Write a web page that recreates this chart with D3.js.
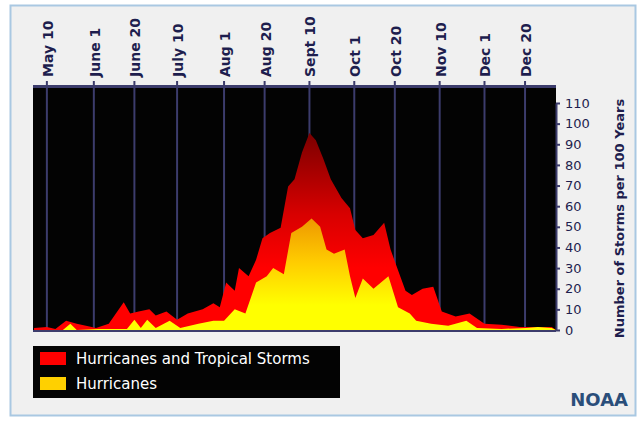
<!DOCTYPE html>
<html><head><meta charset="utf-8">
<script src="https://cdn.jsdelivr.net/npm/d3@7"></script>
<style>body{margin:0;background:#fff;font-family:"DejaVu Sans",sans-serif}</style>
</head><body><div id="viz"></div>
<script>
// day of year -> storms per 100 years
let totalDays = [124,130,134,139,144,151,153,159,166,169,173,178,181,186,191,196,203,208,211,214,218,220,224.5,228,231,234.5,239.5,243,246,249.5,253,256,259.5,263,268,272,274.5,278,283,288,291,294.5,298,301,306,311,315,321.5,328,335,343,351.5,360,366.5,368.5];
let totalVals = [1,1.5,0.5,4.5,3,1.5,1,3,13.5,8,9,10,7,9,5,8,10,13,11,23,19,30,26,34,44.5,47,49.5,69.5,73,86,95.5,92,83,73,64,59,48.5,44.5,46,52,39,29,19,17,20,21,9,6.5,8,3,2.5,1.5,1.5,1.5,0];
let hurDays = [124,137.5,141,144,154,167.5,171,174,177,181,187.5,192.5,201,208,213,218,223,228,233,236,241,244.5,249.5,254,258,261,264.5,269.5,272,274.5,278,283,290,294.5,300,303,310,318,326.5,331.5,343,354.5,360,366.5,368.5];
let hurVals = [0,0,3,0,0.5,0.5,5,1,5,1,4.5,1,3,4.5,4.5,10,8,23,26,30,27,47,50,54,50,39,37,39,26,15.5,25,20,26,11,8,4.5,3,2,4.5,1,0.5,1,1.5,1,0];
let tickDays = [130,152,171,191,213,232,253,274,293,314,335,354];
let tickLabels = ['May 10','June 1','June 20','July 10','Aug 1','Aug 20','Sept 10','Oct 1','Oct 20','Nov 10','Dec 1','Dec 20'];
let yTicks = [0,10,20,30,40,50,60,70,80,90,100,110];
let legendLabels = ['Hurricanes and Tropical Storms','Hurricanes'];

let W = 643, H = 421;
let svg = d3.select('#viz').append('svg').attr('width', W).attr('height', H);
let defs = svg.append('defs');

svg.append('rect').attr('x', 10.5).attr('y', 5.5).attr('width', 625).attr('height', 410)
	.attr('fill', '#f0f0f0').attr('stroke', '#a9c8e2').attr('stroke-width', 2);

let pL = 33, pR = 556, pT = 85, pB = 331;
let x = d3.scaleLinear().domain([123.5, 368.5]).range([pL, pR]);
let y = d3.scaleLinear().domain([0, 110]).range([pB - 1, 103]);

svg.append('rect').attr('x', pL).attr('y', pT).attr('width', pR - pL).attr('height', pB - pT).attr('fill', '#030303');

let gr = defs.append('linearGradient').attr('id', 'gr').attr('gradientUnits', 'userSpaceOnUse')
	.attr('x1', 0).attr('x2', 0).attr('y1', y(95)).attr('y2', y(30));
gr.append('stop').attr('offset', 0).attr('stop-color', '#7c0000');
gr.append('stop').attr('offset', 0.6).attr('stop-color', '#d80000');
gr.append('stop').attr('offset', 1).attr('stop-color', '#ff0000');
let gy = defs.append('linearGradient').attr('id', 'gy').attr('gradientUnits', 'userSpaceOnUse')
	.attr('x1', 0).attr('x2', 0).attr('y1', y(54)).attr('y2', y(12));
gy.append('stop').attr('offset', 0).attr('stop-color', '#ee9800');
gy.append('stop').attr('offset', 0.5).attr('stop-color', '#ffcc00');
gy.append('stop').attr('offset', 1).attr('stop-color', '#ffff00');

// grid lines
svg.append('g').selectAll('line').data(tickDays).join('line')
	.attr('x1', d => x(d)).attr('x2', d => x(d)).attr('y1', pT - 4).attr('y2', pB)
	.attr('stroke', '#3c3c6c').attr('stroke-width', 2);

let area = (days) => d3.area().x((d, i) => x(days[i])).y0(y(0)).y1(d => y(d));
svg.append('path').datum(totalVals).attr('fill', 'url(#gr)').attr('d', area(totalDays));
svg.append('path').datum(hurVals).attr('fill', 'url(#gy)').attr('d', area(hurDays));

svg.append('line').attr('x1', pL).attr('x2', pR).attr('y1', pB).attr('y2', pB)
	.attr('stroke', '#3c3c6c').attr('stroke-width', 2);
svg.append('rect').attr('x', pL).attr('y', pT).attr('width', pR - pL).attr('height', 3).attr('fill', '#3c3c6c');

// top date labels
svg.append('g').selectAll('text').data(tickDays).join('text')
	.attr('transform', d => `translate(${x(d) + 6},${pT - 8}) rotate(-90)`)
	.attr('fill', '#1e1e4e').attr('font-size', 14).attr('font-weight', 'bold')
	.text((d, i) => tickLabels[i]);

// right axis
let yAxis = svg.append('g').attr('transform', `translate(${pR},0)`)
	.call(d3.axisRight(y).tickValues(yTicks).tickSize(4).tickSizeOuter(0));
yAxis.select('.domain').attr('stroke', '#3c3c6c').attr('stroke-width', 2);
yAxis.selectAll('.tick line').attr('stroke', '#3c3c6c').attr('stroke-width', 2);
yAxis.selectAll('text').attr('fill', '#1e1e4e').attr('font-size', 13).attr('font-family', 'DejaVu Sans').attr('x', 9);

svg.append('text').attr('transform', `translate(624,${(y(0) + y(110)) / 2 + 2}) rotate(-90)`)
	.attr('text-anchor', 'middle').attr('fill', '#1e1e4e').attr('font-size', 13).attr('font-weight', 'bold')
	.text('Number of Storms per 100 Years');

// legend
svg.append('rect').attr('x', 33).attr('y', 346).attr('width', 307).attr('height', 52).attr('fill', '#030303');
let colors = ['#ff0000', '#ffd000'];
let lg = svg.append('g').selectAll('g').data(legendLabels).join('g')
	.attr('transform', (d, i) => `translate(40,${352 + i * 25})`);
lg.append('rect').attr('width', 26).attr('height', 13).attr('fill', (d, i) => colors[i]);
lg.append('text').attr('x', 36).attr('y', 12).attr('fill', '#fff').attr('font-size', 15).text(d => d);

svg.append('text').attr('x', 628).attr('y', 406).attr('text-anchor', 'end')
	.attr('fill', '#2a4e7a').attr('font-size', 18).attr('font-weight', 'bold').text('NOAA');
</script></body></html>
